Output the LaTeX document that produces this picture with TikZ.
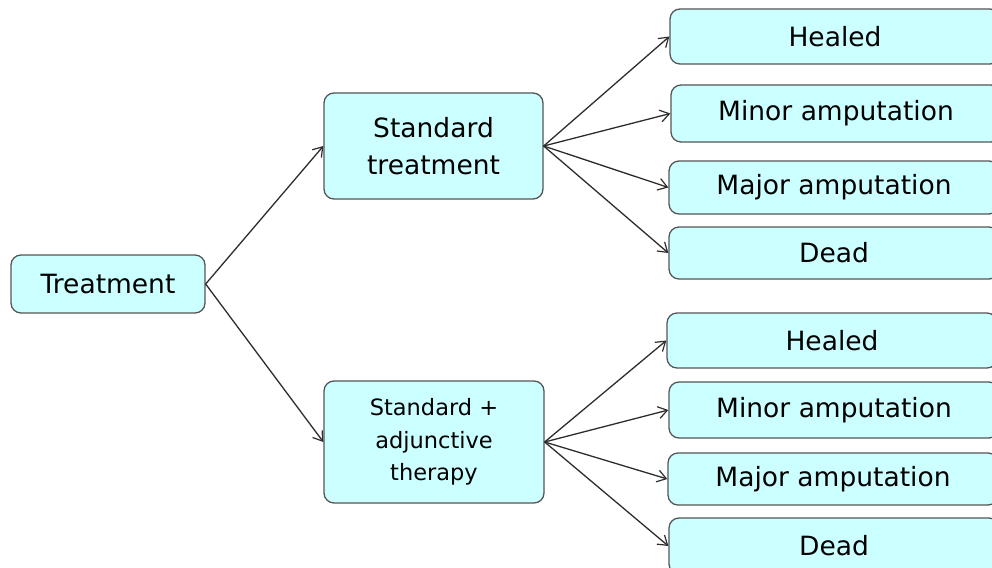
\documentclass[tikz,border=0pt]{standalone}
\usepackage{fontspec}
\setmainfont{DejaVu Sans}
\usetikzlibrary{arrows.meta}
\definecolor{boxfill}{RGB}{204,255,255}
\definecolor{boxline}{RGB}{85,85,85}
\definecolor{linecol}{RGB}{45,45,45}
\tikzset{
  box/.style={draw=boxline, line width=1.3pt, fill=boxfill, rounded corners=10pt,
    align=center, inner sep=0pt, font=\fontsize{26.5}{37}\selectfont},
  outbox/.style={box, minimum width=330pt},
  conn/.style={draw=linecol, line width=1.3pt, -{Straight Barb[length=9pt,width=12pt,line width=1.2pt]}}
}
\begin{document}
\begin{tikzpicture}[x=1pt,y=-1pt]
\useasboundingbox (0,0) rectangle (992,567);
\clip (0,0) rectangle (992,567);
\node[box, minimum width=194pt, minimum height=58pt] (treat) at (108,284) {Treatment};
\node[box, minimum width=219pt, minimum height=106pt] (std) at (433.5,146) {Standard\\treatment};
\node[box, minimum width=220pt, minimum height=122pt, font=\fontsize{22.5}{32.5}\selectfont] (adj) at (434,442) {Standard +\\adjunctive\\therapy};

\node[outbox, minimum height=55pt] (h1) at (835,36.5) {Healed};
\node[outbox, minimum height=57pt] (mi1) at (836,113.5) {Minor amputation};
\node[outbox, minimum height=53pt] (ma1) at (834,187.5) {Major amputation};
\node[outbox, minimum height=52pt] (d1) at (834,253) {Dead};

\node[outbox, minimum height=55pt] (h2) at (832,340.5) {Healed};
\node[outbox, minimum height=56pt] (mi2) at (834,410) {Minor amputation};
\node[outbox, minimum height=52pt] (ma2) at (833,479) {Major amputation};
\node[outbox, minimum height=56pt] (d2) at (834,546) {Dead};

\draw[conn] (treat.east) -- (std.west);
\draw[conn] (treat.east) -- (adj.west);
\foreach \t in {h1,mi1,ma1,d1} \draw[conn] (std.east) -- (\t.west);
\foreach \t in {h2,mi2,ma2,d2} \draw[conn] (adj.east) -- (\t.west);
\end{tikzpicture}
\end{document}
